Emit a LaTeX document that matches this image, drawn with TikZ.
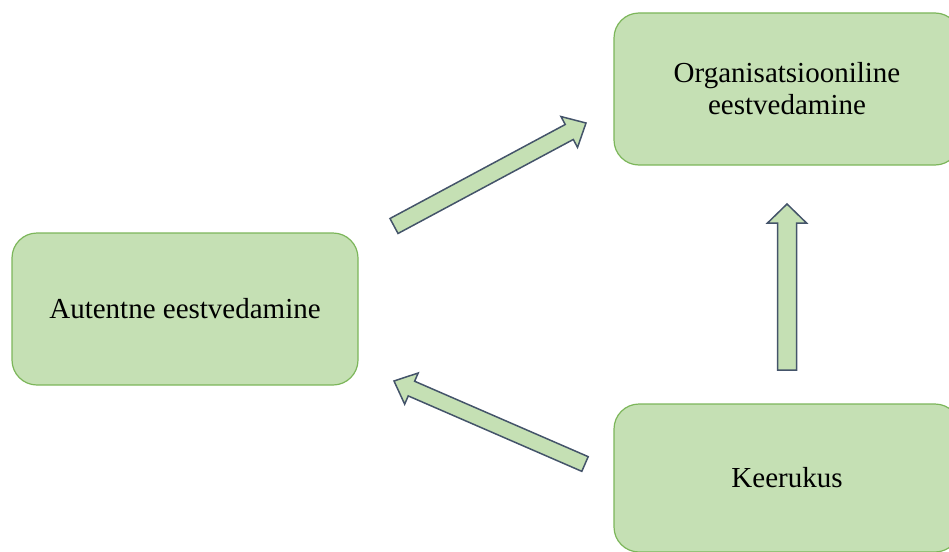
\documentclass[tikz,border=0pt]{standalone}
\usepackage{fontspec}
\setmainfont{Liberation Serif}
\usetikzlibrary{calc}
\definecolor{boxfill}{HTML}{C5E0B4}
\definecolor{boxline}{HTML}{7CB65A}
\definecolor{arrline}{HTML}{44546A}
\tikzset{
  box/.style={draw=boxline, line width=1.2pt, fill=boxfill, rounded corners=25pt,
    minimum width=346pt, minimum height=152pt, align=center, inner sep=0pt,
    font=\fontsize{29}{32}\selectfont, text=black},
  blockarr/.style={draw=arrline, line width=1.5pt, fill=boxfill, line join=miter}
}
\newcommand\myblockarrow[4]{% tail, tip, shaft half width, head half width
  \coordinate (hb) at ($(#2)!19pt!(#1)$);
  \draw[blockarr] ($(#1)!#3!90:(#2)$) -- ($(hb)!#3!90:(#2)$) -- ($(hb)!#4!90:(#2)$)
    -- (#2) -- ($(hb)!#4!-90:(#2)$) -- ($(hb)!#3!-90:(#2)$) -- ($(#1)!#3!-90:(#2)$) -- cycle;
}
\begin{document}
\begin{tikzpicture}[x=1pt, y=-1pt]
  \useasboundingbox (0,0) rectangle (949,551);
  \clip (0,0) rectangle (949,551);
  \node[box] (aut) at (185,309) {Autentne eestvedamine};
  \node[box] (org) at (787,89) {Organisatsiooniline\\eestvedamine};
  \node[box, minimum height=148pt] (kee) at (787,478) {Keerukus};
  % arrow end points
  \coordinate (a1t) at (394,226);
  \coordinate (a1h) at (586,123);
  \coordinate (a2t) at (787,370);
  \coordinate (a2h) at (787,204);
  \coordinate (a3t) at (585,464);
  \coordinate (a3h) at (394,381);
  \myblockarrow{a1t}{a1h}{8.5pt}{17.5pt}
  \myblockarrow{a2t}{a2h}{9.5pt}{19.5pt}
  \myblockarrow{a3t}{a3h}{8pt}{17pt}
\end{tikzpicture}
\end{document}
